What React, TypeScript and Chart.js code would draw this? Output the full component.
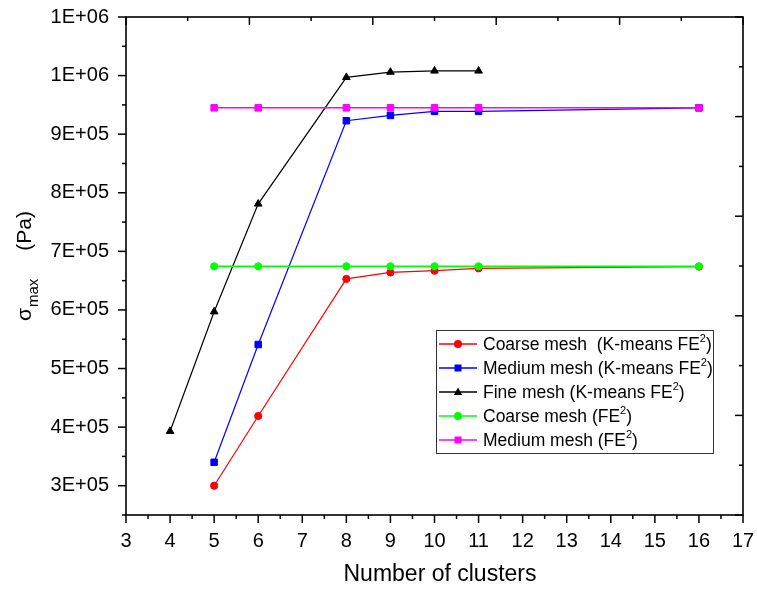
import React, { useEffect, useRef } from "react";
import { Chart, registerables } from "chart.js";

Chart.register(...registerables);

// ---------- data ----------
const clusters = [5, 6, 8, 9, 10, 11, 16];
const fineClusters = [4, 5, 6, 8, 9, 10, 11];
const coarseKmeans = [300000, 419000, 653000, 664000, 667000, 671000, 674000];
const mediumKmeans = [340000, 541000, 923000, 932000, 939000, 939000, 945000];
const fineKmeans = [393000, 597000, 781000, 997000, 1006000, 1008000, 1008000];
const coarseFE2 = [674500, 674500, 674500, 674500, 674500, 674500, 674500];
const mediumFE2 = [945000, 945000, 945000, 945000, 945000, 945000, 945000];

const seriesLabels = [
  "Coarse mesh  (K-means FE²)",
  "Medium mesh (K-means FE²)",
  "Fine mesh (K-means FE²)",
  "Coarse mesh (FE²)",
  "Medium mesh (FE²)",
];
const seriesColors = ["#ff0000", "#0000ff", "#000000", "#00ff00", "#ff00ff"];
const seriesMarkers = ["circle", "rect", "triangle", "circle", "rect"];

const xTickValues = [3, 4, 5, 6, 7, 8, 9, 10, 11, 12, 13, 14, 15, 16, 17];
const yTickValues = [300000, 400000, 500000, 600000, 700000, 800000, 900000, 1000000, 1100000];
const xMin = 3;
const xMax = 17;
const yMin = 250000;
const yMax = 1100000;

const xTitle = "Number of clusters";
const yTitleMain = "σ";
const yTitleSub = "max";
const yTitleUnit = "(Pa)";

const FONT = "'Liberation Sans', Arial, sans-serif";

function fmtExp(v: number) {
  const s = Number(v).toExponential(0).toUpperCase();
  return s.replace(/E([+-])(\d)$/, "E$10$2");
}

function drawMarker(ctx: CanvasRenderingContext2D, type: string, x: number, y: number, color: string) {
  ctx.fillStyle = color;
  ctx.beginPath();
  if (type === "circle") {
    ctx.arc(x, y, 4, 0, Math.PI * 2);
  } else if (type === "rect") {
    ctx.rect(x - 3.5, y - 3.5, 7, 7);
  } else {
    ctx.moveTo(x, y - 4.5);
    ctx.lineTo(x + 4.2, y + 3);
    ctx.lineTo(x - 4.2, y + 3);
    ctx.closePath();
  }
  ctx.fill();
}

const framePlugin = {
  id: "originFrame",
  afterDraw(chart: any) {
    const { ctx, chartArea: a, scales } = chart;
    const xs = scales.x;
    const ys = scales.y;
    ctx.save();
    ctx.strokeStyle = "#000";
    ctx.lineWidth = 1.6;
    ctx.lineCap = "butt";
    ctx.strokeRect(a.left, a.top, a.right - a.left, a.bottom - a.top);

    ctx.lineWidth = 1.5;
    const line = (x1: number, y1: number, x2: number, y2: number) => {
      ctx.beginPath();
      ctx.moveTo(x1, y1);
      ctx.lineTo(x2, y2);
      ctx.stroke();
    };
    // bottom axis ticks (outward)
    for (let v = xMin; v <= xMax + 1e-9; v += 0.5) {
      const px = xs.getPixelForValue(v);
      const major = Math.abs(v - Math.round(v)) < 1e-9;
      line(px, a.bottom, px, a.bottom + (major ? 8 : 4));
    }
    // left axis ticks (outward)
    for (let v = yMin; v <= yMax + 1; v += 50000) {
      const py = ys.getPixelForValue(v);
      const major = v % 100000 === 0;
      line(a.left, py, a.left - (major ? 8 : 4), py);
    }
    // top axis ticks (inward): 5 major divisions
    const xStep = (xMax - xMin) / 10;
    for (let i = 0; i <= 10; i++) {
      const px = xs.getPixelForValue(xMin + i * xStep);
      line(px, a.top, px, a.top + (i % 2 === 0 ? 8 : 4));
    }
    // right axis ticks (inward): 5 major divisions
    const yStep = (yMax - yMin) / 10;
    for (let i = 0; i <= 10; i++) {
      const py = ys.getPixelForValue(yMin + i * yStep);
      line(a.right, py, a.right - (i % 2 === 0 ? 8 : 4), py);
    }

    // axis titles
    ctx.fillStyle = "#000";
    ctx.font = `23px ${FONT}`;
    ctx.textAlign = "center";
    ctx.textBaseline = "middle";
    ctx.fillText(xTitle, 440, 575);

    ctx.save();
    ctx.translate(31, 0);
    ctx.rotate(-Math.PI / 2);
    ctx.textAlign = "left";
    ctx.textBaseline = "alphabetic";
    ctx.font = `21px ${FONT}`;
    const sx = -321;
    ctx.fillText(yTitleMain, sx, 0);
    const w1 = ctx.measureText(yTitleMain).width;
    ctx.font = `15px ${FONT}`;
    ctx.fillText(yTitleSub, sx + w1 + 1, 7);
    ctx.font = `21px ${FONT}`;
    ctx.textAlign = "right";
    ctx.fillText(yTitleUnit, -211, 0);
    ctx.restore();

    // legend
    const bx = 436, by = 330, bw = 277, bh = 123;
    ctx.fillStyle = "#fff";
    ctx.fillRect(bx, by, bw, bh);
    ctx.strokeStyle = "#333";
    ctx.lineWidth = 1;
    ctx.strokeRect(bx + 0.5, by + 0.5, bw, bh);
    chart.data.datasets.forEach((ds: any, i: number) => {
      const cy = 344 + i * 24;
      const color = seriesColors[i];
      ctx.strokeStyle = color;
      ctx.lineWidth = 1.3;
      line(439, cy, 477, cy);
      drawMarker(ctx, seriesMarkers[i], 458, cy, color);
      const parts = String(ds.label).split("²");
      let tx = 483;
      ctx.fillStyle = "#000";
      ctx.textAlign = "left";
      ctx.textBaseline = "middle";
      parts.forEach((p: string, k: number) => {
        ctx.font = `17.5px ${FONT}`;
        ctx.fillText(p, tx, cy + 1);
        tx += ctx.measureText(p).width;
        if (k < parts.length - 1) {
          ctx.font = `11px ${FONT}`;
          ctx.fillText("2", tx, cy - 5);
          tx += ctx.measureText("2").width;
        }
      });
    });
    ctx.restore();
  },
};

export default function App() {
  const ref = useRef<HTMLCanvasElement>(null);
  useEffect(() => {
    if (!ref.current) return;
    const xsets = [clusters, clusters, fineClusters, clusters, clusters];
    const ysets = [coarseKmeans, mediumKmeans, fineKmeans, coarseFE2, mediumFE2];
    const orders = [5, 4, 3, 2, 1];
    const widths = [1.2, 1.2, 1.2, 1.8, 1.4];
    const datasets = seriesLabels.map((label, i) => ({
      label,
      data: xsets[i].map((x, j) => ({ x, y: ysets[i][j] })),
      borderColor: seriesColors[i],
      backgroundColor: seriesColors[i],
      pointBackgroundColor: seriesColors[i],
      pointBorderColor: seriesColors[i],
      pointBorderWidth: 1,
      pointStyle: seriesMarkers[i],
      pointRadius: seriesMarkers[i] === "circle" ? 3.6 : seriesMarkers[i] === "rect" ? 4.6 : 4.4,
      borderWidth: widths[i],
      order: orders[i],
      tension: 0,
      fill: false,
    }));
    const hiddenGrid = (len: number) => ({
      display: true,
      drawOnChartArea: false,
      drawTicks: true,
      tickLength: len,
      tickColor: "rgba(0,0,0,0)",
      color: "rgba(0,0,0,0)",
    });
    const chart = new Chart(ref.current, {
      type: "line",
      data: { datasets },
      options: {
        responsive: false,
        animation: false,
        layout: { padding: { top: 17, right: 14, left: 0, bottom: 0 } },
        plugins: { legend: { display: false }, tooltip: { enabled: false } },
        scales: {
          x: {
            type: "linear",
            min: xMin,
            max: xMax,
            afterBuildTicks: (s: any) => {
              s.ticks = xTickValues.map((v) => ({ value: v }));
            },
            afterFit: (s: any) => {
              s.height = 74;
            },
            grid: hiddenGrid(14),
            border: { display: false },
            ticks: {
              color: "#000",
              font: { family: FONT, size: 20 },
              padding: 0,
              maxRotation: 0,
              autoSkip: false,
            },
          },
          y: {
            type: "linear",
            min: yMin,
            max: yMax,
            afterBuildTicks: (s: any) => {
              s.ticks = yTickValues.map((v) => ({ value: v }));
            },
            afterFit: (s: any) => {
              s.width = 126;
            },
            grid: hiddenGrid(17),
            border: { display: false },
            ticks: {
              color: "#000",
              font: { family: FONT, size: 20 },
              padding: 0,
              autoSkip: false,
              callback: (v: any) => fmtExp(Number(v)),
            },
          },
        },
      },
      plugins: [framePlugin],
    } as any);
    return () => chart.destroy();
  }, []);
  return (
    <canvas
      ref={ref}
      width={757}
      height={589}
      style={{ position: "fixed", left: 0, top: 0, width: 757, height: 589 }}
    />
  );
}
